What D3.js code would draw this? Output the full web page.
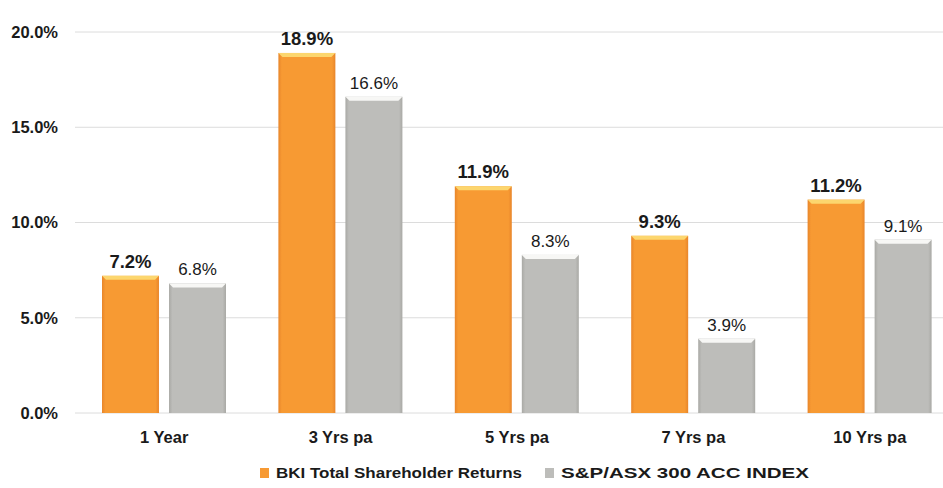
<!DOCTYPE html>
<html>
<head>
<meta charset="utf-8">
<script src="https://cdn.jsdelivr.net/npm/d3@7"></script>
<style>
  body { margin: 0; background: #fff; }
  text { font-family: "Liberation Sans", Arial, sans-serif; }
</style>
</head>
<body>
<div id="chart"></div>
<script>
// chart data
var categories = ["1 Year", "3 Yrs pa", "5 Yrs pa", "7 Yrs pa", "10 Yrs pa"];
var seriesNames = ["BKI Total Shareholder Returns", "S&P/ASX 300 ACC INDEX"];
var bkiValues = [7.2, 18.9, 11.9, 9.3, 11.2];
var indexValues = [6.8, 16.6, 8.3, 3.9, 9.1];
var yTicks = [0, 5, 10, 15, 20];

const width = 943, height = 488;
const margin = { top: 32, right: 0, bottom: 75, left: 76 };

const svg = d3.select("#chart").append("svg")
  .attr("width", width)
  .attr("height", height);

// bevel gradients for the two series
const defs = svg.append("defs");
function sideGradient(id, edge, mid) {
  const g = defs.append("linearGradient").attr("id", id)
    .attr("x1", "0%").attr("x2", "100%").attr("y1", "0%").attr("y2", "0%");
  g.append("stop").attr("offset", "0%").attr("stop-color", edge);
  g.append("stop").attr("offset", "6%").attr("stop-color", mid);
  g.append("stop").attr("offset", "94%").attr("stop-color", mid);
  g.append("stop").attr("offset", "100%").attr("stop-color", edge);
}
sideGradient("gradOrange", "#E8852A", "#F79A33");
sideGradient("gradGray", "#A9A9A5", "#BDBDBA");

const colors = [
  { fill: "url(#gradOrange)", top: "#FCD66E", legend: "#F79A33" },
  { fill: "url(#gradGray)", top: "#F7F7F5", legend: "#BDBDBA" }
];

const x0 = d3.scaleBand()
  .domain(categories)
  .range([margin.left, margin.left + 882])
  .paddingInner(0)
  .paddingOuter(0);

const x1 = d3.scaleBand()
  .domain([0, 1])
  .range([26, 150])
  .paddingInner(0.15);

const y = d3.scaleLinear()
  .domain([0, 20])
  .range([height - margin.bottom, margin.top]);

// gridlines
svg.append("g").selectAll("line")
  .data(yTicks)
  .enter().append("line")
  .attr("x1", margin.left - 1)
  .attr("x2", width)
  .attr("y1", d => y(d))
  .attr("y2", d => y(d))
  .style("stroke", "#DCDCDC")
  .style("stroke-width", 1);

// y tick labels
svg.append("g").selectAll("text")
  .data(yTicks)
  .enter().append("text")
  .attr("x", 58)
  .attr("y", d => y(d))
  .attr("dy", "0.35em")
  .attr("text-anchor", "end")
  .style("font-size", "16.5px")
  .style("font-weight", "bold")
  .style("fill", "#1a1a1a")
  .text(d => d3.format(".1f")(d) + "%");

// build bar records
const bars = [];
categories.forEach((c, i) => {
  bars.push({ cat: c, s: 0, v: bkiValues[i] });
  bars.push({ cat: c, s: 1, v: indexValues[i] });
});

const barG = svg.append("g").selectAll("g")
  .data(bars)
  .enter().append("g")
  .attr("transform", d => `translate(${x0(d.cat) + x1(d.s)},0)`);

barG.append("rect")
  .attr("x", 0)
  .attr("y", d => y(d.v))
  .attr("width", x1.bandwidth())
  .attr("height", d => y(0) - y(d.v))
  .style("fill", d => colors[d.s].fill);

// top bevel
barG.append("path")
  .attr("d", d => {
    const w = x1.bandwidth(), t = y(d.v), b = 4;
    return `M0,${t}L${w},${t}L${w - b},${t + b}L${b},${t + b}Z`;
  })
  .style("fill", d => colors[d.s].top);

// value labels
barG.append("text")
  .attr("x", x1.bandwidth() / 2)
  .attr("y", d => y(d.v) - 8)
  .attr("text-anchor", "middle")
  .style("font-size", d => d.s === 0 ? "18.5px" : "17px")
  .style("font-weight", d => d.s === 0 ? "bold" : "normal")
  .style("fill", "#1a1a1a")
  .text(d => d3.format(".1f")(d.v) + "%");

// category labels
svg.append("g").selectAll("text")
  .data(categories)
  .enter().append("text")
  .attr("x", d => x0(d) + x0.bandwidth() / 2)
  .attr("y", 443)
  .attr("text-anchor", "middle")
  .style("font-size", "16.5px")
  .style("font-weight", "bold")
  .style("fill", "#1a1a1a")
  .text(d => d);

// legend
const legendX = [260, 545];
const legendW = [246, 248];
const legend = svg.append("g").selectAll("g")
  .data(seriesNames)
  .enter().append("g")
  .attr("transform", (d, i) => `translate(${legendX[i]},473)`);

legend.append("rect")
  .attr("x", 0)
  .attr("y", -5)
  .attr("width", 9)
  .attr("height", 10)
  .style("fill", (d, i) => colors[i].legend);

legend.append("text")
  .attr("x", 16)
  .attr("y", 0)
  .attr("dy", "0.35em")
  .attr("textLength", (d, i) => legendW[i])
  .attr("lengthAdjust", "spacingAndGlyphs")
  .style("font-size", "15.5px")
  .style("font-weight", "bold")
  .style("fill", "#1a1a1a")
  .text(d => d);
</script>
</body>
</html>
